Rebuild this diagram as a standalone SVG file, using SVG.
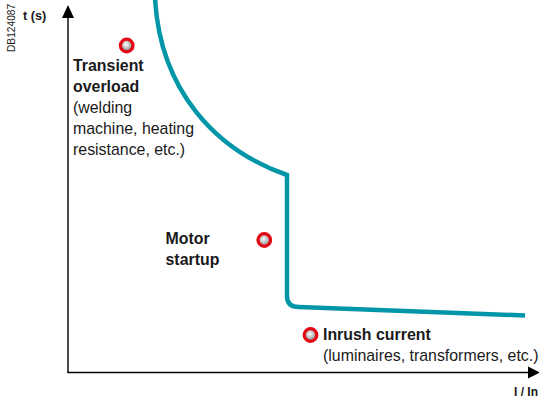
<svg xmlns="http://www.w3.org/2000/svg" width="539" height="398" viewBox="0 0 539 398">
<defs>
<style>
text{font-family:"Liberation Sans",Arial,sans-serif;fill:#1a1a1a}
.b{font-weight:bold}
.l{font-size:15.9px}
.axis{stroke:#000;stroke-width:1.4;fill:none}
.curve{stroke:#0096a8;stroke-width:4.5;fill:none;stroke-linejoin:miter}
.dot{fill:url(#g);stroke:#e30613;stroke-width:3.2}
</style>
<radialGradient id="g" cx="0.45" cy="0.42" r="0.6">
<stop offset="0" stop-color="#ffffff"/>
<stop offset="1" stop-color="#7a7a7a"/>
</radialGradient>
</defs>
<rect width="539" height="398" fill="#fff"/>
<text x="15" y="52" transform="rotate(-90 15 52)" font-size="10.2" fill="#333">DB124087</text>
<g id="connectors">
<line class="axis" x1="68" y1="373" x2="68" y2="16"/>
<path d="M62,18 L68,5 L74,18 Z" fill="#000"/>
<line class="axis" x1="67.5" y1="372.5" x2="530" y2="372.5"/>
<path d="M528,366.5 L540,372.5 L528,378.5 Z" fill="#000"/>
<path class="curve" d="M155,-2 C160,90 215,150 287,175 L287,296 Q287,307 299,307 L525,315.5"/>
</g>
<g id="axis-labels">
<text class="b" x="23" y="20" font-size="12.7">t (s)</text>
<text class="b" x="514" y="396" font-size="12">I / In</text>
</g>
<g id="transient">
<circle class="dot" cx="126.7" cy="45.5" r="6.3"/>
<text class="l" x="73" y="71"><tspan class="b">Transient</tspan><tspan class="b" x="73" y="92">overload</tspan><tspan x="73" y="113">(welding</tspan><tspan x="73" y="134">machine, heating</tspan><tspan x="73" y="155">resistance, etc.)</tspan></text>
</g>
<g id="motor">
<circle class="dot" cx="264.3" cy="240" r="6.3"/>
<text class="l b" x="165.5" y="244">Motor<tspan x="165.5" y="265">startup</tspan></text>
</g>
<g id="inrush">
<circle class="dot" cx="310.5" cy="335" r="6.3"/>
<text class="l b" x="323" y="340">Inrush current</text>
<text class="l" x="323" y="361">(luminaires, transformers, etc.)</text>
</g>
</svg>
